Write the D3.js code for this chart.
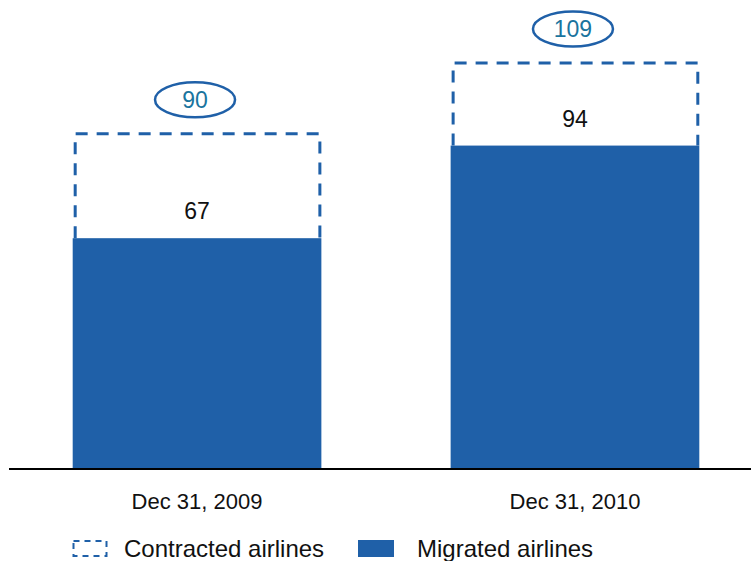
<!DOCTYPE html>
<html>
<head>
<meta charset="utf-8">
<script src="https://cdn.jsdelivr.net/npm/d3@7"></script>
<style>
  html, body { margin: 0; padding: 0; background: #fff; }
  svg { display: block; font-family: "Liberation Sans", Arial, Helvetica, sans-serif; }
</style>
</head>
<body>
<svg id="chart" width="751" height="561"></svg>
<script>
// Airline counts per reporting date
const categories = ["Dec 31, 2009", "Dec 31, 2010"];
const migrated = [67, 94];
const contracted = [90, 109];
const legendLabels = ["Contracted airlines", "Migrated airlines"];

const blue = "#1f60a8";
const teal = "#1a749e";
const baseY = 468;

const svg = d3.select("#chart");

const x = d3.scaleBand()
  .domain(categories)
  .range([16, 756])
  .paddingInner(0.342)
  .paddingOuter(0.15);

// Solid bars and dashed outlines are laid out on separate vertical scales
const yMigrated = d3.scaleLinear().domain([0, 100]).range([baseY, baseY - 343]);
const yContracted = d3.scaleLinear().domain([0, 100]).range([baseY, baseY - 371.5]);

const rows = categories.map((c, i) => ({ c, m: migrated[i], t: contracted[i] }));

// dashed outline for contracted total
svg.selectAll("path.outline")
  .data(rows)
  .join("path")
  .attr("class", "outline")
  .attr("fill", "none")
  .attr("stroke", blue)
  .attr("stroke-width", 3)
  .attr("stroke-dasharray", "12 9")
  .attr("d", d => {
    const x0 = x(d.c) + 2.5, x1 = x(d.c) + x.bandwidth() - 1.5;
    const yb = yMigrated(d.m), yt = yContracted(d.t);
    return `M${x0},${yb}V${yt}H${x1}V${yb}`;
  });

// solid migrated bars
svg.selectAll("rect.bar")
  .data(rows)
  .join("rect")
  .attr("class", "bar")
  .attr("x", d => x(d.c))
  .attr("width", x.bandwidth())
  .attr("y", d => yMigrated(d.m))
  .attr("height", d => baseY - yMigrated(d.m))
  .attr("fill", blue);

// migrated value labels
svg.selectAll("text.mval")
  .data(rows)
  .join("text")
  .attr("class", "mval")
  .attr("x", d => x(d.c) + x.bandwidth() / 2)
  .attr("y", d => yMigrated(d.m) - 19)
  .attr("text-anchor", "middle")
  .attr("font-size", 23)
  .attr("fill", "#111")
  .text(d => d.m);

// contracted totals in ovals
const bubbles = svg.selectAll("g.total")
  .data(rows)
  .join("g")
  .attr("class", "total")
  .attr("transform", d => `translate(${x(d.c) + x.bandwidth() / 2 - 2},${yContracted(d.t) - 34})`);

bubbles.append("ellipse")
  .attr("rx", 40)
  .attr("ry", 17.5)
  .attr("fill", "#fff")
  .attr("stroke", blue)
  .attr("stroke-width", 2.5);

bubbles.append("text")
  .attr("text-anchor", "middle")
  .attr("dy", "0.36em")
  .attr("font-size", 23)
  .attr("fill", teal)
  .text(d => d.t);

// baseline
svg.append("line")
  .attr("x1", 9).attr("x2", 751)
  .attr("y1", baseY + 1).attr("y2", baseY + 1)
  .attr("stroke", "#000")
  .attr("stroke-width", 2);

// category labels
const xAxis = d3.axisBottom(x).tickSize(0).tickPadding(0);
const gx = svg.append("g")
  .attr("transform", `translate(0,${baseY + 25})`)
  .call(xAxis);
gx.select(".domain").remove();
gx.selectAll("text")
  .attr("dy", "0.71em")
  .attr("font-size", 22)
  .attr("font-family", "'Liberation Sans', Arial, sans-serif")
  .attr("fill", "#111");

// legend
const legend = svg.append("g").attr("transform", "translate(0,548)");
legend.append("rect")
  .attr("x", 73.5).attr("y", -7)
  .attr("width", 33).attr("height", 15)
  .attr("fill", "none")
  .attr("stroke", blue)
  .attr("stroke-width", 2)
  .attr("stroke-dasharray", "6 5");
legend.append("text")
  .attr("x", 124).attr("y", 9)
  .attr("font-size", 24)
  .attr("fill", "#111")
  .text(legendLabels[0]);
legend.append("rect")
  .attr("x", 358).attr("y", -8)
  .attr("width", 36).attr("height", 17)
  .attr("fill", blue);
legend.append("text")
  .attr("x", 417).attr("y", 9)
  .attr("font-size", 24)
  .attr("fill", "#111")
  .text(legendLabels[1]);
</script>
</body>
</html>
